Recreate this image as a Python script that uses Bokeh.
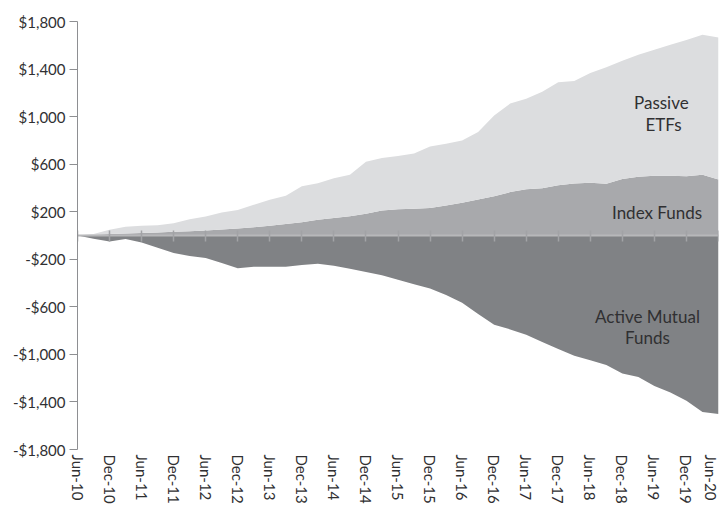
from bokeh.plotting import figure
from bokeh.models import ColumnDataSource, Range1d, FixedTicker, LinearAxis
from bokeh.core.properties import value
from bokeh.embed import file_html
from bokeh.resources import INLINE

# months since Jun-2010 (quarterly samples)
months = list(range(0, 121, 3))

index_funds = [0, 6, 12, 16, 20, 25, 31, 36, 42, 50, 59, 70, 82, 96, 111, 133, 148, 161,
               182, 210, 220, 225, 232, 253, 275, 303, 330, 365, 388, 397, 423, 437, 443,
               435, 475, 495, 502, 503, 498, 510, 472]

passive_etfs = [0, 6, 36, 58, 62, 62, 73, 100, 118, 144, 155, 188, 218, 239, 303, 307, 334,
                351, 438, 442, 448, 465, 516, 519, 525, 567, 680, 745, 762, 813, 867, 863,
                923, 980, 995, 1025, 1060, 1102, 1147, 1178, 1193]

active_funds = [0, -28, -50, -30, -58, -102, -148, -172, -190, -232, -275, -262, -262, -262,
                -248, -237, -255, -280, -308, -335, -372, -410, -445, -500, -565, -660, -750,
                -790, -835, -895, -955, -1012, -1050, -1090, -1160, -1190, -1265, -1320,
                -1390, -1485, -1502]

x_tick_months = list(range(0, 121, 6))
x_tick_labels = ["Jun-10", "Dec-10", "Jun-11", "Dec-11", "Jun-12", "Dec-12", "Jun-13",
                 "Dec-13", "Jun-14", "Dec-14", "Jun-15", "Dec-15", "Jun-16", "Dec-16",
                 "Jun-17", "Dec-17", "Jun-18", "Dec-18", "Jun-19", "Dec-19", "Jun-20"]

y_ticks = [-1800, -1400, -1000, -600, -200, 200, 600, 1000, 1400, 1800]
y_tick_labels = ["-$1,800", "-$1,400", "-$1,000", "-$600", "-$200",
                 "$200", "$600", "$1,000", "$1,400", "$1,800"]

label_texts = ["Passive", "ETFs", "Index Funds", "Active Mutual", "Funds"]

# ---- styling / layout ----
LIGHT = "#dcdddf"
MID = "#a8a9ac"
DARK = "#808285"
TEXT = "#303032"
FONT = "Lato"
Y_MIN, Y_MAX = -1800, 1800

src = ColumnDataSource(dict(month=months, index_funds=index_funds,
                            passive_etfs=passive_etfs, active=active_funds))

p = figure(width=719, height=506, x_range=Range1d(0, 120), y_range=Range1d(Y_MIN, Y_MAX),
           output_backend="svg", toolbar_location=None,
           min_border_left=77, min_border_right=1, min_border_top=21, min_border_bottom=0)
p.outline_line_color = None
p.xgrid.visible = False
p.ygrid.visible = False
p.background_fill_color = "white"
p.border_fill_color = "white"

p.varea_stack(["index_funds", "passive_etfs"], x="month", color=[MID, LIGHT], source=src)
p.varea(x="month", y1=0, y2="active", color=DARK, source=src)

# bottom axis: labels only
xa = p.xaxis[0]
xa.ticker = FixedTicker(ticks=x_tick_months)
xa.major_label_overrides = {m: l for m, l in zip(x_tick_months, x_tick_labels)}
xa.major_label_orientation = "vertical"
xa.axis_line_color = None
xa.major_tick_line_color = None
xa.major_tick_out = 0
xa.major_tick_in = 0
xa.minor_tick_line_color = None
xa.minor_tick_out = 0
xa.major_label_standoff = 5
xa.major_label_text_font = FONT
xa.major_label_text_font_size = "15px"
xa.major_label_text_color = TEXT

# zero line axis with tick marks
za = LinearAxis(fixed_location=0, ticker=FixedTicker(ticks=x_tick_months))
za.axis_line_color = "#b7b8ba"
za.axis_line_width = 2
za.major_tick_line_color = "#a2a3a6"
za.major_tick_line_width = 1.5
za.major_tick_in = 5
za.major_tick_out = 6
za.minor_tick_line_color = None
za.major_label_overrides = {m: "" for m in x_tick_months}
p.add_layout(za, "below")

ya = p.yaxis[0]
ya.ticker = FixedTicker(ticks=y_ticks)
ya.major_label_overrides = {t: l for t, l in zip(y_ticks, y_tick_labels)}
ya.axis_line_color = "#8e8f92"
ya.major_tick_line_color = "#8e8f92"
ya.major_tick_in = 0
ya.major_tick_out = 8
ya.minor_tick_line_color = None
ya.major_label_standoff = 4
ya.major_label_text_font = FONT
ya.major_label_text_font_size = "15px"
ya.major_label_text_color = TEXT

label_x = [109.3, 109.7, 108.5, 106.7, 106.7]
label_y = [1116, 930, 192, -679, -856]
p.text(x=label_x, y=label_y, text=label_texts, text_align="center",
       text_baseline="alphabetic", text_font=value(FONT), text_font_size="17px",
       text_color=TEXT)

open("out.html", "w").write(file_html(p, INLINE))
